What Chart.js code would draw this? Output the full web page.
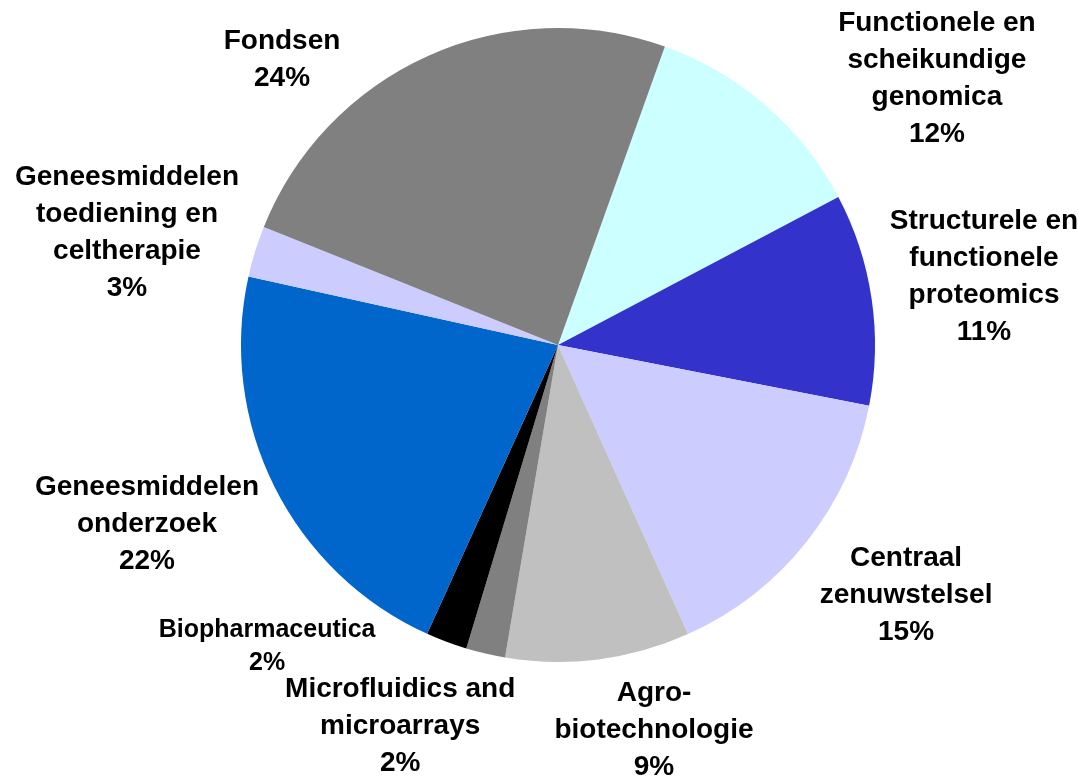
<!DOCTYPE html>
<html>
<head>
<meta charset="utf-8">
<script src="https://cdn.jsdelivr.net/npm/chart.js@4/dist/chart.umd.min.js"></script>
<style>
  html, body { margin: 0; padding: 0; background: #fff; }
  #wrap { width: 1078px; height: 778px; }
</style>
</head>
<body>
<div id="wrap"><canvas id="pie" width="1078" height="778"></canvas></div>
<script>
// ---- Data (clockwise, starting at the Fondsen / Functionele boundary) ----
const categories = [
    ['Functionele en', 'scheikundige', 'genomica'],
    ['Structurele en', 'functionele', 'proteomics'],
    ['Centraal', 'zenuwstelsel'],
    ['Agro-', 'biotechnologie'],
    ['Microfluidics and', 'microarrays'],
    ['Biopharmaceutica'],
    ['Geneesmiddelen', 'onderzoek'],
    ['Geneesmiddelen', 'toediening en', 'celtherapie'],
    ['Fondsen']
];
const shares = [11.8, 10.8, 15.2, 9.4, 2.0, 2.1, 21.7, 2.6, 24.4];
const colors = ['#CCFFFF', '#3333CC', '#CCCCFF', '#C0C0C0', '#808080', '#000000', '#0066CC', '#CCCCFF', '#808080'];

// ---- Label layout: [angle from 12 o'clock in degrees, distance / radius] ----
const labelPlace = [
    [54.9, 1.461], [80.9, 1.361], [125.7, 1.352], [166.0, 1.252],
    [202.5, 1.301], [224.0, 1.321], [246.4, 1.415], [284.6, 1.405], [315.9, 1.251]
];
const labelSize = [28, 28, 28, 28, 28, 25, 28, 28, 28];

const total = shares.reduce((a, b) => a + b, 0);

// draws the multi-line category + percent labels around the pie
const outsideLabels = {
    id: 'outsideLabels',
    afterDatasetsDraw(chart) {
        const arcs = chart.getDatasetMeta(0).data;
        if (!arcs.length) return;
        const cx = arcs[0].x, cy = arcs[0].y, r = arcs[0].outerRadius;
        const ctx = chart.ctx;
        ctx.save();
        ctx.fillStyle = '#000';
        ctx.textAlign = 'center';
        ctx.textBaseline = 'middle';
        categories.forEach((cat, i) => {
            const size = labelSize[i];
            const lh = size * 1.32;
            const lines = cat.concat([Math.round(shares[i] / total * 100) + '%']);
            const a = labelPlace[i][0] * Math.PI / 180;
            const x = cx + Math.sin(a) * labelPlace[i][1] * r;
            const y = cy - Math.cos(a) * labelPlace[i][1] * r;
            ctx.font = 'bold ' + size + 'px "Liberation Sans", Arial, sans-serif';
            const top = y - (lines.length - 1) * lh / 2;
            lines.forEach((ln, k) => ctx.fillText(ln, x, top + k * lh));
        });
        ctx.restore();
    }
};

new Chart(document.getElementById('pie'), {
    type: 'pie',
    data: {
        labels: categories.map(c => c.join(' ')),
        datasets: [{
            data: shares,
            backgroundColor: colors,
            borderWidth: 0,
            hoverOffset: 0,
            offset: 0
        }]
    },
    options: {
        responsive: false,
        animation: false,
        rotation: 19.7,
        layout: { padding: { left: 241, right: 203, top: 28, bottom: 116 } },
        plugins: {
            legend: { display: false },
            tooltip: { enabled: false }
        },
        events: []
    },
    plugins: [outsideLabels]
});
</script>
</body>
</html>
